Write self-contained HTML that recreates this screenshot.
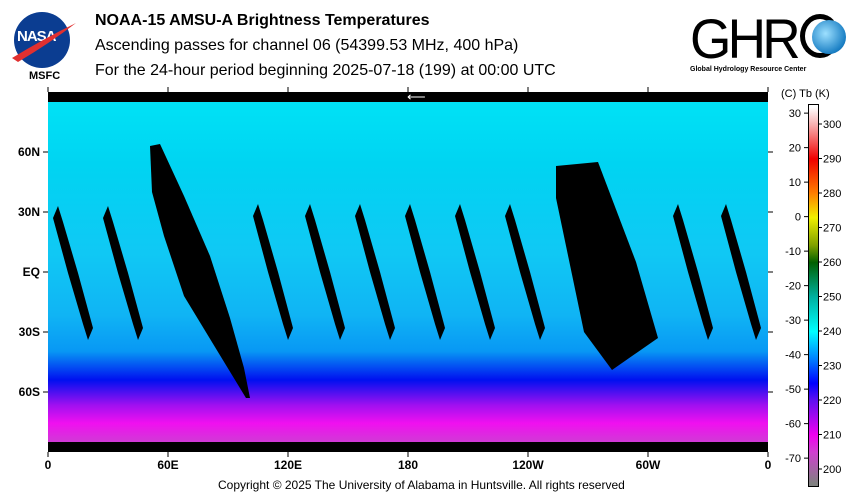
<!DOCTYPE html>
<html><head><meta charset="utf-8"><style>
body{margin:0;background:#fff;width:854px;height:502px;overflow:hidden;font-family:"Liberation Sans",sans-serif;position:relative}
.t{position:absolute;white-space:nowrap;color:#000}
</style></head><body>
<div style="position:absolute;left:14px;top:12px;width:56px;height:56px;border-radius:50%;background:#0b3d91"></div>
<div class="t" style="left:17px;top:28px;font:bold 15px 'Liberation Sans',sans-serif;color:#fff;letter-spacing:-1px">NASA</div>
<svg style="position:absolute;left:10px;top:18px" width="70" height="50"><path d="M2 40 Q35 20 66 5 Q40 25 8 44Z" fill="#e03030"/></svg>
<div class="t" style="left:29px;top:70px;font:bold 11px 'Liberation Sans',sans-serif">MSFC</div>
<div class="t" style="left:95px;top:12px;font:bold 16px 'Liberation Sans',sans-serif">NOAA-15 AMSU-A Brightness Temperatures</div>
<div class="t" style="left:95px;top:37px;font:16px 'Liberation Sans',sans-serif">Ascending passes for channel 06 (54399.53 MHz, 400 hPa)</div>
<div class="t" style="left:95px;top:62px;font:16px 'Liberation Sans',sans-serif">For the 24-hour period beginning 2025-07-18 (199) at 00:00 UTC</div>
<div class="t" style="left:690px;top:6px;font:56px 'Liberation Sans',sans-serif;letter-spacing:-4px;transform:scaleX(0.95);transform-origin:left">GHR</div>
<div style="position:absolute;left:800px;top:14px;width:40px;height:44px;border-radius:50%;border:5px solid #000;border-right-color:transparent;box-sizing:border-box"></div>
<div style="position:absolute;left:812px;top:20px;width:34px;height:34px;border-radius:50%;background:radial-gradient(circle at 40% 40%,#9de0ff,#1a7fc4 70%,#0a4a80)"></div>
<div class="t" style="left:690px;top:66px;font:bold 7px 'Liberation Sans',sans-serif">Global Hydrology Resource Center</div>
<svg id="map" style="position:absolute;left:0;top:0" width="854" height="502"></svg>
<div class="t" style="left:218px;top:478px;font:12px 'Liberation Sans',sans-serif">Copyright © 2025 The University of Alabama in Huntsville.  All rights reserved</div>
<script>
const NS="http://www.w3.org/2000/svg";
const svg=document.getElementById('map');
const lonTicks=[0,60,120,180,240,300,360];
const lonLabels=["0","60E","120E","180","120W","60W","0"];
const latTicks=[60,30,0,-30,-60];
const latLabels=["60N","30N","EQ","30S","60S"];
const swathTopLon=[5,30,105,131,156,181,206,231,315,339];
const swathTopLat=[33,33,34,34,34,34,34,34,34,34];
const swathBotLat=[-34,-34,-34,-34,-34,-34,-34,-34,-34,-34];
const bigSwath1=[[51,63],[56,64],[68,38],[81,8],[91,-23],[98,-48],[101,-63],[99,-63],[85,-40],[68,-12],[58,18],[52,40]];
const bigSwath2=[[254,53],[275,55],[294,5],[305,-33],[282,-49],[268,-30],[254,37]];
const cbKelvin=[300,290,280,270,260,250,240,230,220,210,200];
const cbCelsius=[30,20,10,0,-10,-20,-30,-40,-50,-60,-70];
const cbStopsK=[305,300,290,280,273,265,260,250,240,232,225,220,210,205,196];
const cbStopsC=["#ffffff","#f8b0b0","#f00000","#ff8000","#f0f000","#80a000","#006000","#00b0a0","#00ffff","#0080ff","#0000ff","#6010f0","#f000f0","#d040d0","#808080"];
const X=lon=>48+lon*2, Y=lat=>272-lat*2;
const KY=k=>124+(300-k)*3.45;
function el(t,a){const e=document.createElementNS(NS,t);for(const k in a)e.setAttribute(k,a[k]);svg.appendChild(e);return e;}
const defs=el('defs',{});
defs.innerHTML=`<linearGradient id="bg" x1="0" y1="0" x2="0" y2="1">
<stop offset="0" stop-color="#00e4f6"/><stop offset="0.2" stop-color="#00d4f2"/><stop offset="0.45" stop-color="#10c8f4"/>
<stop offset="0.62" stop-color="#10b4f4"/><stop offset="0.72" stop-color="#0898f4"/><stop offset="0.8" stop-color="#0010f0"/>
<stop offset="0.87" stop-color="#a010f0"/><stop offset="0.92" stop-color="#f010f0"/><stop offset="1" stop-color="#c050c8"/></linearGradient>
<linearGradient id="cb" x1="0" y1="0" x2="0" y2="1">${cbStopsK.map((k,i)=>`<stop offset="${(KY(k)-104)/382}" stop-color="${cbStopsC[i]}"/>`).join('')}</linearGradient>`;
let r=el('rect',{x:X(0),y:Y(90),width:720,height:360,fill:'url(#bg)'});

let b=el('rect',{x:X(0),y:Y(90),width:720,height:10,fill:'#000'});

b=el('rect',{x:X(0),y:Y(-85),width:720,height:10,fill:'#000'});

let ar=el('text',{x:407,y:101,fill:'#fff','font-size':'13'});ar.textContent='⟵';

swathTopLon.forEach((lon,i)=>{
 const w=5,sh=15,t=swathTopLat[i],bo=swathBotLat[i],m=(t+bo)/2;
 const p=[[lon,t],[lon+w/2,t-8],[lon+sh/2+w/2,m],[lon+sh+w/2,bo+6],[lon+sh,bo],[lon+sh-w/2,bo+8],[lon+sh/2-w/2,m],[lon-w/2,t-6]];
 const g=el('polygon',{points:p.map(q=>X(q[0])+','+Y(q[1])).join(' '),fill:'#000'});
 
});
[bigSwath1,bigSwath2].forEach((s,i)=>{
 const g=el('polygon',{points:s.map(q=>X(q[0])+','+Y(q[1])).join(' '),fill:'#000'});
 
});
lonTicks.forEach((lon,i)=>{
 el('line',{x1:X(lon),x2:X(lon),y1:Y(90),y2:Y(90)-5,stroke:'#000'});
 el('line',{x1:X(lon),x2:X(lon),y1:Y(-90),y2:Y(-90)+5,stroke:'#000'});
 const t=el('text',{x:X(lon),y:469,'text-anchor':'middle','font-size':'12','font-weight':'bold','font-family':'Liberation Sans'});
 t.textContent=lonLabels[i];
});
latTicks.forEach((lat,i)=>{
 el('line',{x1:X(0),x2:X(0)-5,y1:Y(lat),y2:Y(lat),stroke:'#000'});
 el('line',{x1:X(360),x2:X(360)+5,y1:Y(lat),y2:Y(lat),stroke:'#000'});
 const t=el('text',{x:40,y:Y(lat)+4,'text-anchor':'end','font-size':'12','font-weight':'bold','font-family':'Liberation Sans'});
 t.textContent=latLabels[i];
});
let c=el('rect',{x:808.5,y:104.5,width:10,height:382,fill:'url(#cb)',stroke:'#000'});

let h=el('text',{x:781,y:97,'font-size':'11','font-family':'Liberation Sans'});h.textContent='(C)  Tb  (K)';

cbKelvin.forEach(k=>{
 el('line',{x1:818,x2:822,y1:KY(k),y2:KY(k),stroke:'#000'});
 const t=el('text',{x:823,y:KY(k)+4,'font-size':'11','font-family':'Liberation Sans'});t.textContent=k;
 
});
cbCelsius.forEach(cc=>{
 const y=KY(cc+273.15);
 el('line',{x1:804,x2:808,y1:y,y2:y,stroke:'#000'});
 const t=el('text',{x:801,y:y+4,'text-anchor':'end','font-size':'11','font-family':'Liberation Sans'});t.textContent=cc;
 
});
</script>
</body></html>
